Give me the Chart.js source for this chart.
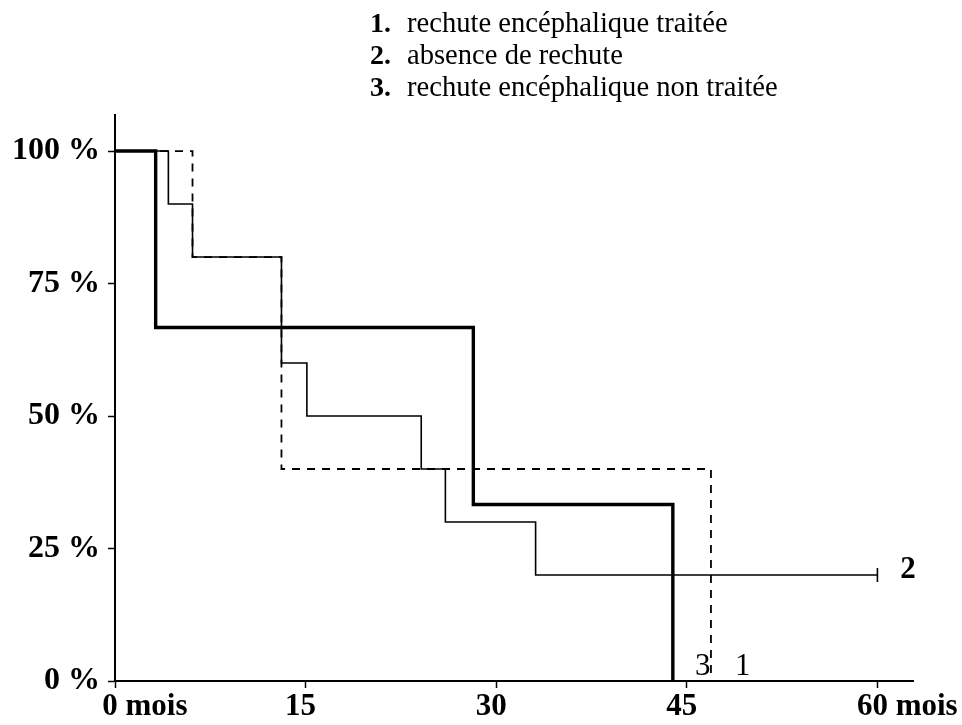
<!DOCTYPE html>
<html>
<head>
<meta charset="utf-8">
<script src="https://cdn.jsdelivr.net/npm/chart.js@4.4.1/dist/chart.umd.min.js"></script>
<style>
  html, body { margin: 0; padding: 0; background: #fff; }
  #wrap { position: relative; width: 962px; height: 725px; }
</style>
</head>
<body>
<div id="wrap"><canvas id="c" width="962" height="725"></canvas></div>
<script>
// ---- Data (months, survival %) ----
const months1 = [0, 6.1, 13.1, 46.9];                 // 1. rechute encéphalique traitée (dashed)
const surv1   = [100, 80, 40, 0];
const months2 = [0, 4.2, 6.1, 13.1, 15.1, 24.1, 26.0, 33.1, 60]; // 2. absence de rechute (thin)
const surv2   = [100, 90, 80, 60, 50, 40, 30, 20, 20];
const months3 = [0, 3.2, 28.2, 43.9];                 // 3. rechute encéphalique non traitée (thick)
const surv3   = [100, 66.7, 33.3, 0];

const seriesNames = ['rechute encéphalique traitée', 'absence de rechute', 'rechute encéphalique non traitée'];
const seriesNumbers = ['1.', '2.', '3.'];
const xTickValues = [0, 15, 30, 45, 60];
const xTickLabels = ['0 mois', '15', '30', '45', '60 mois'];
const yTickValues = [0, 25, 50, 75, 100];
const yTickLabels = ['0 %', '25 %', '50 %', '75 %', '100 %'];
const curveTags = ['1', '2', '3'];

const toPts = (xs, ys) => xs.map((x, i) => ({ x: x, y: ys[i] }));

const serif = '"Liberation Serif", "Times New Roman", serif';

const overlay = {
  id: 'overlay',
  afterDraw(chart) {
    const ctx = chart.ctx;
    const xs = chart.scales.x, ys = chart.scales.y;
    ctx.save();
    ctx.fillStyle = '#000';
    // x tick labels
    ctx.font = 'bold 31px ' + serif;
    ctx.textBaseline = 'alphabetic';
    ctx.textAlign = 'left';
    xTickValues.forEach((v, i) => {
      const lab = xTickLabels[i];
      const num = lab.split(' ')[0];
      const w = ctx.measureText(num).width;
      const px = xs.getPixelForValue(v);
      ctx.fillText(lab, px - w / 2 - 5, 715);
    });
    // curve tags
    ctx.textAlign = 'center';
    ctx.font = '31px ' + serif;
    ctx.fillText(curveTags[2], xs.getPixelForValue(46.25), ys.getPixelForValue(1.1));
    ctx.fillText(curveTags[0], xs.getPixelForValue(49.4), ys.getPixelForValue(1.1));
    ctx.font = 'bold 31px ' + serif;
    ctx.fillText(curveTags[1], xs.getPixelForValue(62.4), ys.getPixelForValue(19.5));
    // legend
    ctx.textAlign = 'left';
    for (let i = 0; i < 3; i++) {
      const by = 32 + i * 32;
      ctx.font = 'bold 28px ' + serif;
      ctx.fillText(seriesNumbers[i], 370, by);
      ctx.font = '28.6px ' + serif;
      ctx.fillText(seriesNames[i], 407, by);
    }
    ctx.restore();
  }
};

new Chart(document.getElementById('c'), {
  type: 'line',
  data: {
    datasets: [
      {
        label: seriesNames[0],
        data: toPts(months1, surv1),
        stepped: 'before',
        borderColor: '#000',
        borderWidth: 1.8,
        borderDash: [8, 7],
        pointRadius: 0,
        fill: false
      },
      {
        label: seriesNames[1],
        data: toPts(months2, surv2),
        stepped: 'before',
        borderColor: '#000',
        borderWidth: 1.6,
        pointStyle: 'line',
        pointRotation: 90,
        pointRadius: (c) => (c.dataIndex === months2.length - 1 ? 7 : 0),
        pointBorderWidth: 1.6,
        pointBorderColor: '#000',
        fill: false
      },
      {
        label: seriesNames[2],
        data: toPts(months3, surv3),
        stepped: 'before',
        borderColor: '#000',
        borderWidth: 3.4,
        pointRadius: 0,
        fill: false
      }
    ]
  },
  options: {
    responsive: false,
    animation: false,
    events: [],
    layout: { padding: { left: 0, top: 115, right: 49, bottom: 0 } },
    plugins: { legend: { display: false }, tooltip: { enabled: false } },
    scales: {
      x: {
        type: 'linear',
        min: 0,
        max: 62.8,
        afterBuildTicks: (s) => { s.ticks = xTickValues.map(v => ({ value: v })); },
        afterFit: (s) => { s.height = 44; },
        ticks: { display: false },
        grid: { drawOnChartArea: false, drawTicks: true, tickLength: 7, color: '#000', tickWidth: 1.5 },
        border: { display: true, color: '#000', width: 2 }
      },
      y: {
        type: 'linear',
        min: 0,
        max: 106.8,
        afterBuildTicks: (s) => { s.ticks = yTickValues.map(v => ({ value: v })); },
        afterFit: (s) => { s.width = 115; },
        ticks: {
          color: '#000',
          padding: 8,
          font: { family: serif, size: 32, weight: 'bold' },
          callback: (v) => { const i = yTickValues.indexOf(v); return i >= 0 ? yTickLabels[i] : ''; }
        },
        grid: { drawOnChartArea: false, drawTicks: true, tickLength: 7, color: '#000', tickWidth: 1.5 },
        border: { display: true, color: '#000', width: 2 }
      }
    }
  },
  plugins: [overlay]
});
</script>
</body>
</html>
